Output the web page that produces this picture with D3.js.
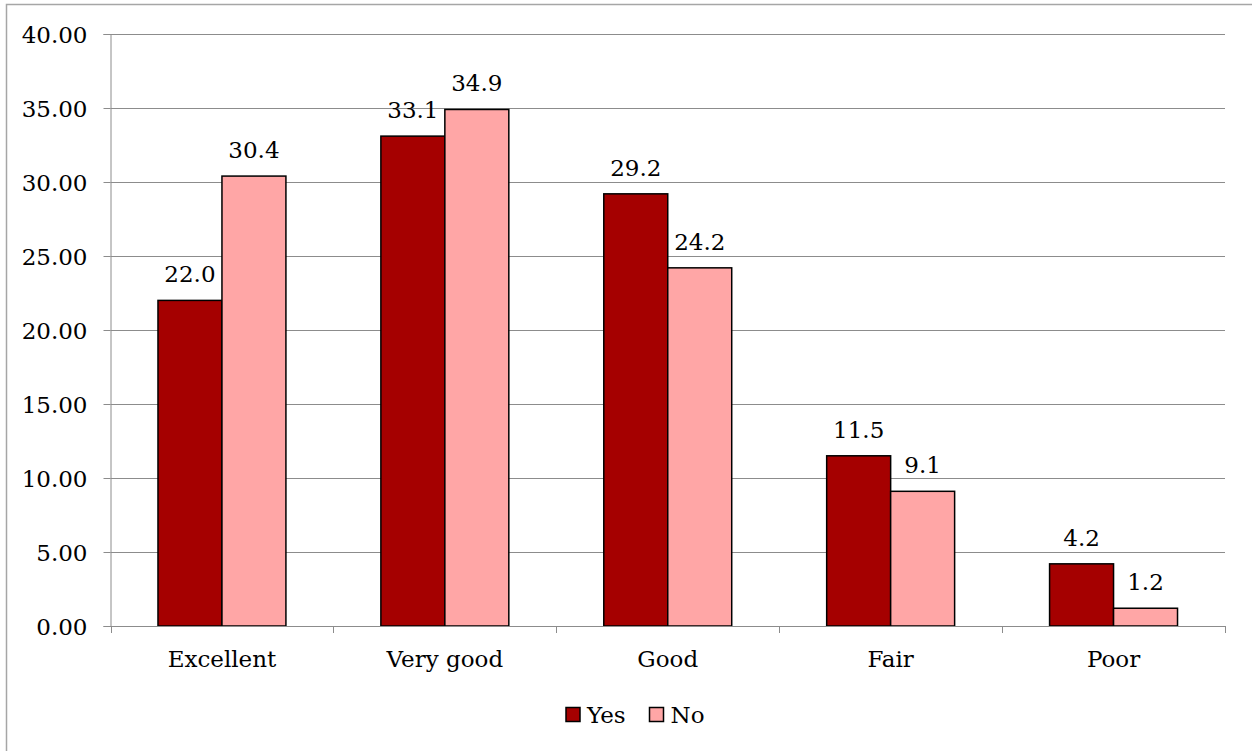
<!DOCTYPE html>
<html>
<head>
<meta charset="utf-8">
<script src="https://cdn.jsdelivr.net/npm/d3@7"></script>
<style>
  html, body { margin: 0; padding: 0; background: #fff; }
  svg { display: block; }
</style>
</head>
<body>
<svg id="chart" width="1252" height="751"></svg>
<script>
// Self-rated health by group (percent)
const categories = ["Excellent", "Very good", "Good", "Fair", "Poor"];
const seriesNames = ["Yes", "No"];
const yesValues = [22.0, 33.1, 29.2, 11.5, 4.2];
const noValues = [30.4, 34.9, 24.2, 9.1, 1.2];
const yTicks = [0, 5, 10, 15, 20, 25, 30, 35, 40];
const seriesColors = ["#A50000", "#FFA6A6"];

const svg = d3.select("#chart");
const fontSize = 23;
const fontName = "DejaVu Serif";

// Outer chart frame
svg.append("rect")
  .attr("x", 6.5).attr("y", 4.5)
  .attr("width", 1300).attr("height", 800)
  .attr("fill", "none").attr("stroke", "#a6a6a6").attr("stroke-width", 1.5);

const plot = { left: 110.5, right: 1225, top: 34, bottom: 626 };

const x = d3.scaleBand().domain(categories).range([plot.left, plot.right]).padding(0);
const barW = x.bandwidth() * 0.287;
const y = d3.scaleLinear().domain([0, 40]).range([plot.bottom, plot.top]);

// Horizontal gridlines
svg.append("g")
  .selectAll("line")
  .data(yTicks.filter(t => t > 0))
  .join("line")
  .attr("x1", plot.left).attr("x2", plot.right)
  .attr("y1", d => Math.round(y(d)) + 0.5).attr("y2", d => Math.round(y(d)) + 0.5)
  .attr("stroke", "#8c8c8c").attr("stroke-width", 1);

// Y axis
const yAxis = svg.append("g")
  .attr("transform", `translate(${plot.left},0)`)
  .call(d3.axisLeft(y).tickValues(yTicks).tickFormat(d3.format(".2f")).tickSize(7).tickPadding(16));
yAxis.attr("font-family", fontName).attr("font-size", fontSize);
yAxis.select(".domain").attr("stroke", "#8c8c8c");
yAxis.selectAll(".tick line").attr("stroke", "#8c8c8c");
yAxis.selectAll(".tick text").attr("fill", "#000").attr("dy", "0.37em");

// Bars
const data = categories.map((c, i) => ({ cat: c, vals: [yesValues[i], noValues[i]] }));
const groups = svg.append("g").selectAll("g")
  .data(data).join("g")
  .attr("transform", d => `translate(${x(d.cat) + x.bandwidth() / 2},0)`);

groups.selectAll("rect")
  .data(d => d.vals.map((v, k) => ({ v, k })))
  .join("rect")
  .attr("x", d => d.k === 0 ? -barW : 0)
  .attr("width", barW)
  .attr("y", d => y(d.v))
  .attr("height", d => y(0) - y(d.v))
  .attr("fill", d => seriesColors[d.k])
  .attr("stroke", "#000").attr("stroke-width", 1.5);

// Value labels
groups.selectAll("text")
  .data(d => d.vals.map((v, k) => ({ v, k })))
  .join("text")
  .attr("x", d => d.k === 0 ? -barW / 2 : barW / 2)
  .attr("y", d => y(d.v) - 18)
  .attr("text-anchor", "middle")
  .attr("font-family", fontName)
  .attr("font-size", fontSize)
  .text(d => d.v.toFixed(1));

// X axis line and category boundary ticks
svg.append("line")
  .attr("x1", plot.left).attr("x2", plot.right)
  .attr("y1", plot.bottom + 0.5).attr("y2", plot.bottom + 0.5)
  .attr("stroke", "#8c8c8c");
const boundaries = categories.map(c => x(c)).concat([x(categories[categories.length - 1]) + x.bandwidth()]);
svg.append("g").selectAll("line")
  .data(boundaries).join("line")
  .attr("x1", d => Math.round(d) + 0.5).attr("x2", d => Math.round(d) + 0.5)
  .attr("y1", plot.bottom).attr("y2", plot.bottom + 7)
  .attr("stroke", "#8c8c8c");
svg.append("g").selectAll("text")
  .data(categories).join("text")
  .attr("x", d => x(d) + x.bandwidth() / 2)
  .attr("y", 667)
  .attr("text-anchor", "middle")
  .attr("font-family", fontName)
  .attr("font-size", fontSize)
  .text(d => d);

// Legend
const legendItems = [
  { name: seriesNames[0], color: seriesColors[0], x: 566 },
  { name: seriesNames[1], color: seriesColors[1], x: 649.5 }
];
const lg = svg.append("g").selectAll("g").data(legendItems).join("g");
lg.append("rect")
  .attr("x", d => d.x).attr("y", 707.5)
  .attr("width", 14).attr("height", 14)
  .attr("fill", d => d.color).attr("stroke", "#000").attr("stroke-width", 1.5);
lg.append("text")
  .attr("x", d => d.x + 21).attr("y", 723)
  .attr("font-family", fontName)
  .attr("font-size", fontSize)
  .text(d => d.name);
</script>
</body>
</html>
